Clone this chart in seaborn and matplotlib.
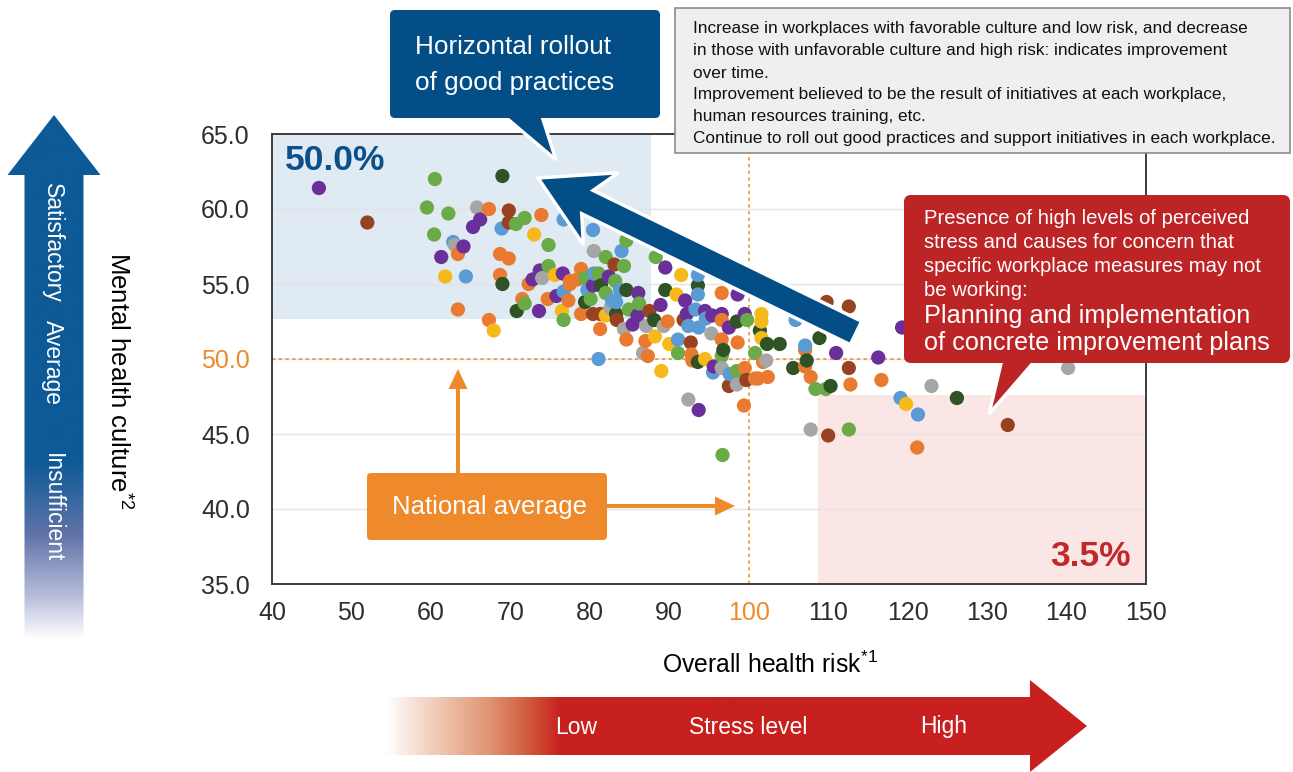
import numpy as np
import pandas as pd
import matplotlib
matplotlib.use("Agg")
import matplotlib.pyplot as plt
import seaborn as sns
from matplotlib.patches import Polygon, FancyBboxPatch, Rectangle
from matplotlib.colors import LinearSegmentedColormap

# ---------------- data ----------------
purple_x = [45.9, 66.2, 65.3, 64.1, 61.3, 73.7, 72.8, 76.6, 75.8, 73.6, 89.5, 82.4, 80.4, 86.1, 92.0,
            98.6, 88.9, 85.4, 86.0, 92.2, 94.5, 95.4, 96.6, 97.5, 99.5, 111.0, 95.6, 93.7, 116.3, 119.3]
purple_y = [61.4, 59.3, 58.8, 57.5, 56.8, 55.9, 55.3, 55.7, 54.2, 53.2, 56.1, 55.5, 54.9, 54.4, 53.9,
            54.3, 53.6, 52.3, 52.9, 53.0, 53.2, 52.9, 53.0, 52.1, 53.0, 50.4, 49.5, 46.6, 50.1, 52.1]

brown_x = [52.0, 69.8, 69.8, 83.1, 80.4, 81.3, 83.4, 87.5, 91.8, 109.8, 92.7, 99.7, 97.5, 110.0, 112.6, 112.6, 132.6]
brown_y = [59.1, 59.9, 59.1, 56.3, 53.0, 53.0, 52.6, 53.2, 52.6, 53.8, 51.1, 48.6, 48.2, 44.9, 53.5, 49.4, 45.6]

green_x = [60.5, 59.5, 62.2, 70.7, 71.8, 60.4, 74.8, 74.8, 71.8, 76.7, 82.0, 84.6, 88.3, 84.3, 79.4,
           81.1, 83.2, 82.0, 80.1, 84.9, 86.2, 99.8, 108.4, 109.7, 91.1, 98.5, 96.7, 112.6, 100.8, 96.6]
green_y = [62.0, 60.1, 59.7, 59.0, 59.4, 58.3, 57.6, 56.2, 53.7, 52.6, 56.8, 57.9, 56.8, 56.2, 55.4,
           55.7, 55.2, 54.4, 54.0, 53.3, 53.7, 52.6, 48.0, 48.0, 50.4, 49.2, 43.6, 45.3, 50.4, 50.2]

dkgreen_x = [69.0, 69.0, 70.8, 81.4, 84.6, 89.5, 93.6, 79.4, 83.3, 88.1, 98.5, 101.4, 102.3, 103.9,
             108.9, 107.3, 105.6, 110.3, 96.8, 93.6, 126.2]
dkgreen_y = [62.2, 55.0, 53.2, 54.9, 54.6, 54.6, 54.9, 53.8, 53.0, 52.6, 52.5, 51.9, 51.0, 51.0,
             51.4, 49.9, 49.4, 48.2, 50.6, 49.8, 47.4]

orange_x = [67.3, 73.9, 63.4, 68.7, 69.8, 68.7, 72.3, 77.5, 74.7, 77.3, 71.5, 63.4, 67.3, 78.9, 77.5,
            78.4, 96.6, 78.9, 89.8, 96.6, 107.1, 107.1, 107.8, 81.3, 84.6, 87.0, 96.6, 98.6, 87.3, 92.8,
            92.9, 99.5, 100.8, 102.4, 101.8, 99.4, 112.8, 116.7, 121.2, 101.2]
orange_y = [60.0, 59.6, 57.0, 57.0, 56.7, 55.6, 55.0, 55.0, 54.0, 53.9, 54.0, 53.3, 52.6, 56.0, 55.2,
            55.3, 54.4, 53.0, 52.5, 52.6, 50.6, 49.5, 48.8, 52.0, 51.3, 51.2, 51.3, 51.1, 50.2, 50.3,
            49.9, 49.4, 48.7, 48.8, 49.8, 46.9, 48.3, 48.6, 44.1, 48.7]

blue_x = [76.7, 68.9, 62.8, 64.4, 76.7, 80.4, 84.0, 93.6, 80.5, 79.7, 83.8, 93.6, 83.3, 93.3, 92.4,
          93.7, 94.6, 107.1, 105.9, 91.1, 95.5, 97.6, 81.1, 119.1, 121.3, 82.8]
blue_y = [59.3, 58.7, 57.8, 55.5, 54.5, 58.6, 57.2, 55.6, 55.7, 54.6, 54.6, 54.3, 53.8, 53.3, 52.2,
          52.1, 52.7, 50.9, 52.6, 51.3, 49.1, 49.0, 50.0, 47.4, 46.3, 53.9]

gray_x = [65.8, 63.0, 74.0, 80.5, 82.6, 87.1, 89.3, 84.3, 95.3, 86.7, 96.6, 98.5, 102.2, 92.4, 107.8, 123.0, 140.2]
gray_y = [60.1, 57.6, 55.4, 57.2, 53.4, 52.2, 52.2, 52.0, 51.7, 50.4, 49.4, 48.3, 49.9, 47.3, 45.3, 48.2, 49.4]

yellow_x = [73.0, 61.8, 75.6, 76.5, 67.9, 91.5, 90.9, 82.0, 101.6, 101.6, 101.6, 88.2, 90.0, 94.5, 89.0, 119.8]
yellow_y = [58.3, 55.5, 55.6, 53.2, 51.9, 55.6, 54.3, 52.9, 53.0, 52.5, 51.4, 51.5, 51.0, 50.0, 49.2, 47.0]

x_ticks = [40, 50, 60, 70, 80, 90, 100, 110, 120, 130, 140, 150]
y_ticks = [35.0, 40.0, 45.0, 50.0, 55.0, 60.0, 65.0]
national_avg_x = 100
national_avg_y = 50.0
good_zone = (40, 87.7, 52.67, 65)      # x0, x1, y0, y1
bad_zone = (108.7, 150, 35, 47.6)
good_share = "50.0%"
bad_share = "3.5%"

groups = {
    "Group 1": (purple_x, purple_y, "#6b2f9a"),
    "Group 2": (brown_x, brown_y, "#974322"),
    "Group 3": (green_x, green_y, "#6aaa47"),
    "Group 4": (dkgreen_x, dkgreen_y, "#2f5325"),
    "Group 5": (orange_x, orange_y, "#e97a2f"),
    "Group 6": (blue_x, blue_y, "#5b9bd5"),
    "Group 7": (gray_x, gray_y, "#a6a6a6"),
    "Group 8": (yellow_x, yellow_y, "#f5b919"),
}
frames = [pd.DataFrame({"risk": gx, "culture": gy, "group": g}) for g, (gx, gy, _) in groups.items()]
df = pd.concat(frames, ignore_index=True).sort_values("risk", kind="stable")
palette = {g: c for g, (_, _, c) in groups.items()}

# ---------------- style ----------------
sns.set_style("white")
plt.rcParams["font.family"] = ["Liberation Sans", "DejaVu Sans"]
plt.rcParams["mathtext.fontset"] = "custom"
plt.rcParams["mathtext.rm"] = "Liberation Sans"
plt.rcParams["mathtext.it"] = "Liberation Sans"
plt.rcParams["mathtext.bf"] = "Liberation Sans:bold"

ORANGE = "#ee8a2b"
DBLUE = "#044e87"
RED = "#bd2426"

W, H = 1293, 772
fig = plt.figure(figsize=(W / 100, H / 100), dpi=100)
ax = fig.add_axes([272 / W, 1 - 584 / H, (1146 - 272) / W, (584 - 134) / H])

# shaded zones
ax.add_patch(Rectangle((good_zone[0], good_zone[2]), good_zone[1] - good_zone[0], good_zone[3] - good_zone[2],
                       facecolor="#dfeaf3", edgecolor="none", zorder=0.1))
ax.add_patch(Rectangle((bad_zone[0], bad_zone[2]), bad_zone[1] - bad_zone[0], bad_zone[3] - bad_zone[2],
                       facecolor="#fbe6e6", edgecolor="none", zorder=0.1))

ax.axhline(national_avg_y, color=ORANGE, ls=(0, (2.2, 2.2)), lw=1.1, zorder=1)
ax.axvline(national_avg_x, color=ORANGE, ls=(0, (2.2, 2.2)), lw=1.1, zorder=1)

sns.scatterplot(data=df, x="risk", y="culture", hue="group", palette=palette, s=105,
                linewidth=0, alpha=1, legend=False, ax=ax, zorder=3)

ax.set_xlim(40, 150)
ax.set_ylim(35, 65)
ax.set_xticks(x_ticks)
ax.set_xticklabels([str(v) for v in x_ticks])
ax.set_yticks(y_ticks)
ax.set_yticklabels([f"{v:.1f}" for v in y_ticks])
ax.set_xlabel("")
ax.set_ylabel("")
ax.tick_params(axis="both", length=0, labelsize=18, colors="#2e2e2e")
ax.tick_params(axis="y", pad=16)
ax.tick_params(axis="x", pad=12)
for lbl in ax.get_yticklabels():
    if lbl.get_text() == f"{national_avg_y:.1f}":
        lbl.set_color(ORANGE)
for lbl in ax.get_xticklabels():
    if lbl.get_text() == str(national_avg_x):
        lbl.set_color(ORANGE)
ax.grid(axis="y", color="#e4e4e4", lw=1)
ax.grid(axis="x", visible=False)
ax.set_axisbelow(True)
for sp in ax.spines.values():
    sp.set_color("#3c3c3c")
    sp.set_linewidth(1.4)

ax.text(0.015, 0.94, good_share, transform=ax.transAxes, ha="left", va="center",
        fontsize=25.5, fontweight="bold", color="#0c4f8a", zorder=4)
ax.text(0.982, 0.062, bad_share, transform=ax.transAxes, ha="right", va="center",
        fontsize=25.5, fontweight="bold", color="#c0282a", zorder=4)

# ---------------- overlay (pixel coordinates) ----------------
ov = fig.add_axes([0, 0, 1, 1], zorder=5)
ov.patch.set_alpha(0)
ov.axis("off")


def arrow_poly(tail, tip, shaft_w, head_w, head_len, neck):
    tail = np.array(tail, float)
    tip = np.array(tip, float)
    d = tip - tail
    u = d / np.hypot(*d)
    n = np.array([-u[1], u[0]])
    base = tip - u * head_len
    nk = tip - u * neck
    return [tail + n * shaft_w / 2, nk + n * shaft_w / 2, base + n * head_w / 2, tip,
            base - n * head_w / 2, nk - n * shaft_w / 2, tail - n * shaft_w / 2]


def gradient_fill(verts, colors, stops, extent, horizontal, z):
    poly = Polygon(verts, closed=True, facecolor="none", edgecolor="none", zorder=z)
    ov.add_patch(poly)
    cmap = LinearSegmentedColormap.from_list("g", list(zip(stops, colors)))
    g = np.linspace(0, 1, 512)
    arr = g[None, :] if horizontal else g[:, None]
    im = ov.imshow(arr, cmap=cmap, extent=extent, aspect="auto", origin="upper",
                   interpolation="bilinear", zorder=z)
    im.set_clip_path(poly)


# left vertical arrow (culture scale)
left_arrow = arrow_poly((54, 640), (54, 115), 59, 93, 60, 60)
gradient_fill(left_arrow, ["#0d5a97", "#0d5a97", "#5f73a8", "#b9bfdc", "#ffffff"],
              [0, 0.66, 0.80, 0.92, 1.0], (5, 103, 640, 115), False, 2)
for txt, yc in [("Satisfactory", 243), ("Average", 362), ("Insufficient", 508)]:
    ov.text(52, yc, txt, rotation=-90, ha="center", va="center", color="white", fontsize=16.5, zorder=3)

ov.text(118, 381, r"Mental health culture$^{\mathrm{*2}}$", rotation=-90, ha="center", va="center",
        fontsize=18.5, color="black")
ov.text(770, 665, r"Overall health risk$^{\mathrm{*1}}$", ha="center", va="center",
        fontsize=17.8, color="black")

# bottom horizontal arrow (stress level)
bottom_arrow = arrow_poly((385, 726), (1087, 726), 58, 92, 57, 57)
gradient_fill(bottom_arrow, ["#ffffff", "#eec4ad", "#df9270", "#cf5236", "#c8201f", "#c8201f"],
              [0, 0.08, 0.15, 0.21, 0.25, 1.0], (385, 1087, 772, 680), True, 2)
for txt, xc in [("Low", 576), ("Stress level", 748), ("High", 944)]:
    ov.text(xc, 727, txt, ha="center", va="center", color="white", fontsize=16.5, zorder=3)

# big blue diagonal arrow
ov.add_patch(Polygon(arrow_poly((856, 333), (538, 178), 26, 80, 70, 55), closed=True,
                     facecolor=DBLUE, edgecolor="white", lw=2.5, joinstyle="miter", zorder=4))

# blue callout
ov.add_patch(Polygon([(497, 110), (540, 110), (556, 160)], closed=True, facecolor=DBLUE,
                     edgecolor="white", lw=2.5, zorder=4))
ov.add_patch(FancyBboxPatch((390, 10), 270, 108, boxstyle="round,pad=0,rounding_size=5",
                            facecolor=DBLUE, edgecolor="none", zorder=4.1))
ov.text(415, 47, "Horizontal rollout", ha="left", va="center", color="white", fontsize=18.8, zorder=5)
ov.text(415, 83, "of good practices", ha="left", va="center", color="white", fontsize=18.8, zorder=5)

# grey note box
ov.add_patch(Rectangle((675, 8), 615, 145, facecolor="#efefef", edgecolor="#8c8c8c", lw=1.2, zorder=4))
note_lines = [
    "Increase in workplaces with favorable culture and low risk, and decrease",
    "in those with unfavorable culture and high risk: indicates improvement",
    "over time.",
    "Improvement believed to be the result of initiatives at each workplace,",
    "human resources training, etc.",
    "Continue to roll out good practices and support initiatives in each workplace.",
]
for i, line in enumerate(note_lines):
    ov.text(693, 29 + 22 * i, line, ha="left", va="center", color="#111111", fontsize=12.4, zorder=5)

# red callout
ov.add_patch(Polygon([(1003, 355), (1040, 355), (989, 414)], closed=True, facecolor=RED,
                     edgecolor="white", lw=2.5, zorder=4))
ov.add_patch(FancyBboxPatch((904, 195), 386, 168, boxstyle="round,pad=0,rounding_size=7",
                            facecolor=RED, edgecolor="none", zorder=4.1))
red_small = ["Presence of high levels of perceived",
             "stress and causes for concern that",
             "specific workplace measures may not",
             "be working:"]
for i, line in enumerate(red_small):
    ov.text(924, 218 + 24 * i, line, ha="left", va="center", color="white", fontsize=14.6, zorder=5)
for i, line in enumerate(["Planning and implementation", "of concrete improvement plans"]):
    ov.text(924, 316 + 27 * i, line, ha="left", va="center", color="white", fontsize=18.2, zorder=5)

# national average box and arrows
ov.add_patch(FancyBboxPatch((367, 473), 240, 67, boxstyle="round,pad=0,rounding_size=4",
                            facecolor=ORANGE, edgecolor="none", zorder=4))
ov.text(490, 507, "National average", ha="center", va="center", color="white", fontsize=18.5, zorder=5)
ov.add_patch(Polygon(arrow_poly((458, 474), (458, 369), 4, 19, 20, 20), closed=True,
                     facecolor=ORANGE, edgecolor="none", zorder=4))
ov.add_patch(Polygon(arrow_poly((606, 506), (735, 506), 4, 19, 20, 20), closed=True,
                     facecolor=ORANGE, edgecolor="none", zorder=4))

ov.set_xlim(0, W)
ov.set_ylim(H, 0)

fig.savefig("out.png", dpi=100)
